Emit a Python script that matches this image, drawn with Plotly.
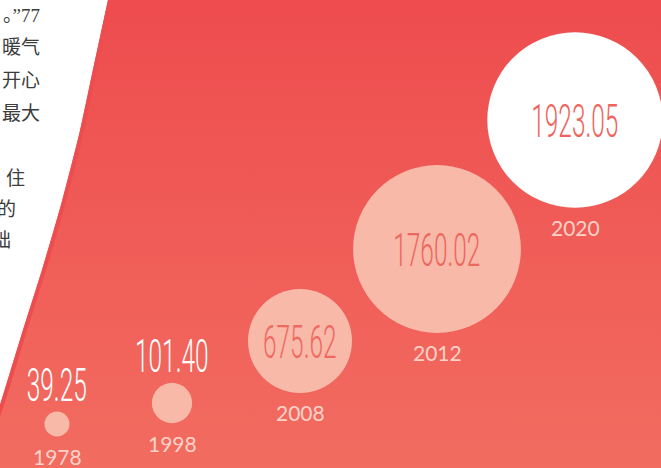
import plotly.graph_objects as go

# ---- data ----
years = ["1978", "1998", "2008", "2012", "2020"]
values = [39.25, 101.40, 675.62, 1760.02, 1923.05]

# ---- layout (positions / styles, not data) ----
W, H = 661, 468
cx = [57, 172, 300, 437, 575]
cy = [424, 403, 341, 249, 120]
circle_colors = ["#f8b9a9", "#f8b9a9", "#f8b9a9", "#f8b9a9", "#ffffff"]
value_inside = [False, False, True, True, True]
value_colors = ["#ffffff", "#ffffff", "#ef6a60", "#ec685e", "#f0645c"]

edge_x = [108, 94, 79, 61, 42, 23, 0, -12]
edge_y = [0, 65, 135, 205, 270, 330, 405, 440]

side_text = ["。”77", "暖气", "开心", "最大", "住", "的", "础"]
side_x = [42, 42, 42, 42, 27, 18, 13]
side_y = [15, 47, 80, 113, 178, 209, 240]

SIZEREF = 0.125  # radius = 2*sqrt(value)
VALUE_FONT = "Roboto, Lato, sans-serif"
VALUE_SIZE = 47
X_SQUEEZE = 0.52

fig = go.Figure()

# red background region with vertical gradient
reg_x = [W + 10, W + 10, -12] + edge_x[::-1][1:] + [108]
reg_y = [-10, H + 10, H + 10] + edge_y[::-1][1:] + [-10]
fig.add_trace(go.Scatter(
    x=reg_x, y=reg_y, mode="lines", fill="toself",
    line=dict(width=0, color="rgba(0,0,0,0)"),
    fillgradient=dict(type="vertical", start=0, stop=H,
                      colorscale=[[0, "#ee4c4e"], [1, "#f26c60"]]),
    hoverinfo="skip", showlegend=False))

# darker edge stripe
fig.add_trace(go.Scatter(
    x=[e + 2 for e in edge_x], y=edge_y, mode="lines",
    line=dict(color="#ee4d4f", width=4, shape="spline"),
    hoverinfo="skip", showlegend=False))

# bubbles (area proportional to value)
fig.add_trace(go.Scatter(
    x=cx, y=cy, mode="markers",
    marker=dict(size=values, sizemode="area", sizeref=SIZEREF,
                color=circle_colors, line=dict(width=0), opacity=1),
    hoverinfo="skip", showlegend=False))

# labels
for i, (yr, v) in enumerate(zip(years, values)):
    r = 2 * (v ** 0.5)
    shift = 0 if value_inside[i] else r + 27
    fig.add_annotation(x=cx[i], y=cy[i], text=f"{v:.2f}", showarrow=False,
                       xanchor="center", yanchor="middle", yshift=shift,
                       font=dict(family=VALUE_FONT, size=VALUE_SIZE, color=value_colors[i], weight=300))
    fig.add_annotation(x=cx[i], y=cy[i], text=yr, showarrow=False,
                       xanchor="center", yanchor="middle", yshift=-(r + 20),
                       font=dict(family="Lato, Roboto, sans-serif", size=21, color="#fcd2c8"))

for t, x, y in zip(side_text, side_x, side_y):
    fig.add_annotation(x=x, y=y, text=t, showarrow=False, xanchor="right", yanchor="middle",
                       font=dict(family="Liberation Serif, Noto Sans CJK SC", size=19, color="#3c3c3c"))

fig.update_xaxes(range=[0, W], visible=False, fixedrange=True)
fig.update_yaxes(range=[H, 0], visible=False, fixedrange=True)
fig.update_layout(width=W, height=H, margin=dict(l=0, r=0, t=0, b=0),
                  paper_bgcolor="#ffffff", plot_bgcolor="#ffffff", showlegend=False)

post = """
document.body.style.margin = '0';
document.body.style.padding = '0';
document.querySelectorAll('text.annotation-text').forEach(function(t){
  if (/^\\d+\\.\\d\\d$/.test(t.textContent)) {
    var b = t.getBBox();
    var c = b.x + b.width / 2;
    t.setAttribute('transform', 'translate(' + c + ',0) scale(%s,1) translate(' + (-c) + ',0)');
  }
});
""" % X_SQUEEZE

fig.write_html("out.html", post_script=post, config={"displayModeBar": False})
